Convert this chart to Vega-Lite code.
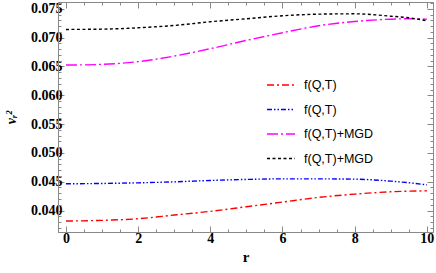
{
  "$schema": "https://vega.github.io/schema/vega-lite/v6.json",
  "width": 375,
  "height": 230,
  "autosize": {"type": "none"},
  "padding": {"left": 58, "top": 2, "right": 3, "bottom": 41},
  "background": "white",
  "config": {
    "view": {"stroke": "#888888", "strokeWidth": 1},
    "axis": {"grid": false, "domainColor": "#888888", "tickColor": "#888888", "labelFont": "Liberation Serif", "labelFontWeight": "bold", "labelFontSize": 14, "labelColor": "black", "titleColor": "black"}
  },
  "datasets": {
    "curves": [
      {"r": 0, "v": 0.03818, "s": "a"}, {"r": 1, "v": 0.0383, "s": "a"}, {"r": 2, "v": 0.03858, "s": "a"}, {"r": 3, "v": 0.03922, "s": "a"}, {"r": 4, "v": 0.03986, "s": "a"}, {"r": 5, "v": 0.04066, "s": "a"}, {"r": 6, "v": 0.04147, "s": "a"}, {"r": 7, "v": 0.04228, "s": "a"}, {"r": 8, "v": 0.04285, "s": "a"}, {"r": 9, "v": 0.04325, "s": "a"}, {"r": 10, "v": 0.04343, "s": "a"},
      {"r": 0, "v": 0.04464, "s": "b"}, {"r": 1, "v": 0.0447, "s": "b"}, {"r": 2, "v": 0.04481, "s": "b"}, {"r": 3, "v": 0.04498, "s": "b"}, {"r": 4, "v": 0.04522, "s": "b"}, {"r": 5, "v": 0.0454, "s": "b"}, {"r": 6, "v": 0.0455, "s": "b"}, {"r": 7, "v": 0.0455, "s": "b"}, {"r": 8, "v": 0.04545, "s": "b"}, {"r": 9, "v": 0.0451, "s": "b"}, {"r": 9.5, "v": 0.04482, "s": "b"}, {"r": 10, "v": 0.04446, "s": "b"},
      {"r": 0, "v": 0.06524, "s": "c"}, {"r": 1, "v": 0.06536, "s": "c"}, {"r": 2, "v": 0.06583, "s": "c"}, {"r": 3, "v": 0.0668, "s": "c"}, {"r": 4, "v": 0.06808, "s": "c"}, {"r": 5, "v": 0.06952, "s": "c"}, {"r": 6, "v": 0.07085, "s": "c"}, {"r": 7, "v": 0.07206, "s": "c"}, {"r": 8, "v": 0.0728, "s": "c"}, {"r": 9, "v": 0.0732, "s": "c"}, {"r": 9.5, "v": 0.07327, "s": "c"}, {"r": 10, "v": 0.0732, "s": "c"},
      {"r": 0, "v": 0.07142, "s": "d"}, {"r": 1, "v": 0.07147, "s": "d"}, {"r": 2, "v": 0.07171, "s": "d"}, {"r": 3, "v": 0.07211, "s": "d"}, {"r": 4, "v": 0.07275, "s": "d"}, {"r": 5, "v": 0.07327, "s": "d"}, {"r": 6, "v": 0.07379, "s": "d"}, {"r": 7, "v": 0.07407, "s": "d"}, {"r": 8, "v": 0.07413, "s": "d"}, {"r": 9, "v": 0.07372, "s": "d"}, {"r": 9.5, "v": 0.07344, "s": "d"}, {"r": 10, "v": 0.07292, "s": "d"}
    ]
  },
  "data": {"name": "curves"},
  "resolve": {"axis": {"x": "independent", "y": "independent"}},
  "layer": [
    {
      "mark": {"type": "line", "strokeWidth": 1.4, "interpolate": "monotone"},
      "encoding": {
        "x": {"field": "r", "type": "quantitative", "scale": {"domain": [-0.22, 10.17], "nice": false, "zero": false},
          "axis": {"orient": "bottom", "values": [0, 2, 4, 6, 8, 10], "tickSize": -6, "labelPadding": 5, "title": "r", "titleFont": "Liberation Serif", "titleFontWeight": "bold", "titleFontSize": 15, "titlePadding": 4}},
        "y": {"field": "v", "type": "quantitative", "scale": {"domain": [0.03628, 0.07618], "nice": false, "zero": false},
          "axis": {"orient": "left", "values": [0.04, 0.045, 0.05, 0.055, 0.06, 0.065, 0.07, 0.075], "format": ".3f", "tickSize": -6, "labelPadding": 2, "title": "vᵣ²", "titleFont": "Liberation Serif", "titleFontStyle": "italic", "titleFontWeight": "bold", "titleFontSize": 14, "titlePadding": 12}},
        "color": {"field": "s", "type": "nominal", "scale": {"domain": ["a", "b", "c", "d"], "range": ["#ff0000", "#0000ff", "#ff00ff", "#000000"]},
          "legend": {"orient": "none", "legendX": 208, "legendY": 68, "title": null, "columns": 1, "gridAlign": "all", "symbolType": "stroke", "symbolSize": 784, "symbolStrokeWidth": 1.4, "labelFont": "Liberation Sans", "labelFontSize": 12.5, "labelOffset": 8, "rowPadding": 2.5, "labelExpr": "datum.label == 'a' || datum.label == 'b' ? 'f(Q,T)' : 'f(Q,T)+MGD'"}},
        "strokeDash": {"field": "s", "type": "nominal", "scale": {"domain": ["a", "b", "c", "d"], "range": [[7, 3, 2, 3], [5, 2, 1.5, 2, 1.5, 2], [11, 3, 2, 3], [3, 2.5]]},
          "legend": {"orient": "none", "legendX": 208, "legendY": 68, "title": null, "columns": 1, "gridAlign": "all", "symbolType": "stroke", "symbolSize": 784, "symbolStrokeWidth": 1.4, "labelFont": "Liberation Sans", "labelFontSize": 12.5, "labelOffset": 8, "rowPadding": 2.5, "labelExpr": "datum.label == 'a' || datum.label == 'b' ? 'f(Q,T)' : 'f(Q,T)+MGD'"}}
      }
    },
    {
      "mark": {"type": "line", "opacity": 0},
      "encoding": {
        "x": {"field": "r", "type": "quantitative", "axis": {"orient": "bottom", "values": [0.5, 1, 1.5, 2.5, 3, 3.5, 4.5, 5, 5.5, 6.5, 7, 7.5, 8.5, 9, 9.5], "tickSize": -3, "labels": false, "domain": false, "title": null}},
        "y": {"field": "v", "type": "quantitative", "axis": {"orient": "left", "values": [0.037, 0.038, 0.039, 0.041, 0.042, 0.043, 0.044, 0.046, 0.047, 0.048, 0.049, 0.051, 0.052, 0.053, 0.054, 0.056, 0.057, 0.058, 0.059, 0.061, 0.062, 0.063, 0.064, 0.066, 0.067, 0.068, 0.069, 0.071, 0.072, 0.073, 0.074, 0.076], "tickSize": -3, "labels": false, "domain": false, "title": null}}
      }
    },
    {
      "mark": {"type": "line", "opacity": 0},
      "encoding": {
        "x": {"field": "r", "type": "quantitative", "axis": {"orient": "top", "values": [0, 2, 4, 6, 8, 10], "tickSize": -6, "labels": false, "title": null}},
        "y": {"field": "v", "type": "quantitative", "axis": {"orient": "right", "values": [0.04, 0.045, 0.05, 0.055, 0.06, 0.065, 0.07, 0.075], "tickSize": -6, "labels": false, "title": null}}
      }
    },
    {
      "mark": {"type": "line", "opacity": 0},
      "encoding": {
        "x": {"field": "r", "type": "quantitative", "axis": {"orient": "top", "values": [0.5, 1, 1.5, 2.5, 3, 3.5, 4.5, 5, 5.5, 6.5, 7, 7.5, 8.5, 9, 9.5], "tickSize": -3, "labels": false, "domain": false, "title": null}},
        "y": {"field": "v", "type": "quantitative", "axis": {"orient": "right", "values": [0.037, 0.038, 0.039, 0.041, 0.042, 0.043, 0.044, 0.046, 0.047, 0.048, 0.049, 0.051, 0.052, 0.053, 0.054, 0.056, 0.057, 0.058, 0.059, 0.061, 0.062, 0.063, 0.064, 0.066, 0.067, 0.068, 0.069, 0.071, 0.072, 0.073, 0.074, 0.076], "tickSize": -3, "labels": false, "domain": false, "title": null}}
      }
    }
  ]
}
